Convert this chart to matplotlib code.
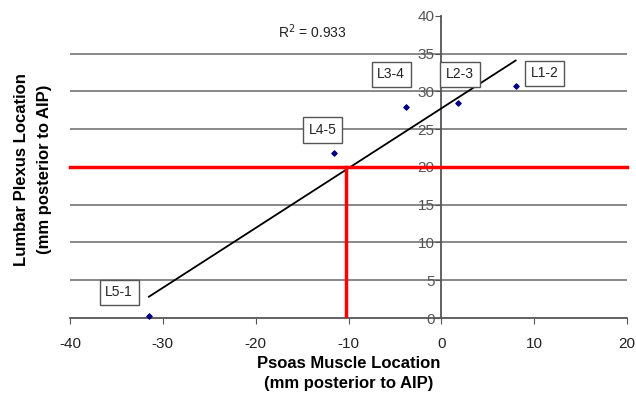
import numpy as np
import matplotlib
matplotlib.use('Agg')
import matplotlib.pyplot as plt

plt.rcParams['font.family'] = ['Liberation Sans', 'DejaVu Sans']
plt.rcParams['axes.unicode_minus'] = False

# Vertebral levels and their measured locations (mm posterior to AIP)
levels = ['L5-1', 'L4-5', 'L3-4', 'L2-3', 'L1-2']
psoas_x = [-31.5, -11.6, -3.8, 1.75, 8.0]
plexus_y = [0.3, 21.9, 28.0, 28.5, 30.7]

# Label box positions (data coordinates)
label_x = [-34.7, -12.8, -5.4, 2.0, 11.1]
label_y = [3.4, 24.9, 32.3, 32.3, 32.4]

# Reference cut-off lines
cut_y = 20
cut_x = -10.3

x_ticks = [-40, -30, -20, -10, 0, 10, 20]
y_ticks = [0, 5, 10, 15, 20, 25, 30, 35, 40]

fig = plt.figure(figsize=(6.36, 3.99), dpi=100)
ax = fig.add_axes([0.110, 0.203, 0.876, 0.757])

ax.set_xlim(-40, 20)
ax.set_ylim(0, 40)

# Horizontal gridlines
for yv in y_ticks[1:-1]:
    ax.axhline(yv, color='#7f7f7f', lw=1.3, zorder=1)

# Linear fit
slope, intercept = np.polyfit(psoas_x, plexus_y, 1)
fit_x = np.array([min(psoas_x), max(psoas_x)])
ax.plot(fit_x, slope * fit_x + intercept, color='black', lw=1.3, zorder=3)

# Red reference lines
ax.plot([-40, 20], [cut_y, cut_y], color='#ff0000', lw=2.5, zorder=4, clip_on=False)
ax.plot([cut_x, cut_x], [0, cut_y], color='#ff0000', lw=2.5, zorder=4)

# Data points
ax.scatter(psoas_x, plexus_y, marker='D', s=7, color='#000080', zorder=5, clip_on=False)

for name, lx, ly in zip(levels, label_x, label_y):
    ax.text(lx, ly, name, ha='center', va='center', fontsize=10, color='#222222',
            bbox=dict(boxstyle='square,pad=0.4', fc='white', ec='#555555', lw=1), zorder=6)

ax.text(-13.9, 37.9, 'R$^2$ = 0.933', ha='center', va='center', fontsize=10, color='#222222')

# Axes styling: y axis crosses at x = 0
ax.spines['left'].set_position(('data', 0))
ax.spines['top'].set_visible(False)
ax.spines['right'].set_visible(False)
ax.spines['left'].set_color('#555555')
ax.spines['bottom'].set_color('#555555')
ax.spines['left'].set_linewidth(1.3)
ax.spines['bottom'].set_linewidth(1.3)

ax.set_xticks(x_ticks)
ax.set_yticks(y_ticks)
ax.tick_params(axis='x', direction='out', length=4, color='#555555', labelsize=11, labelcolor='#222222', pad=10)
ax.tick_params(axis='y', direction='out', length=4, color='#555555', labelsize=11, labelcolor='#555555', pad=1)

ax.set_xlabel('Psoas Muscle Location\n(mm posterior to AIP)', fontsize=12, fontweight='bold',
              labelpad=3, linespacing=1.45)
fig.text(0.052, 0.575, 'Lumbar Plexus Location\n(mm posterior to AIP)', rotation=90,
         ha='center', va='center', fontsize=12, fontweight='bold', linespacing=1.6)

fig.savefig('out.png', dpi=100)
